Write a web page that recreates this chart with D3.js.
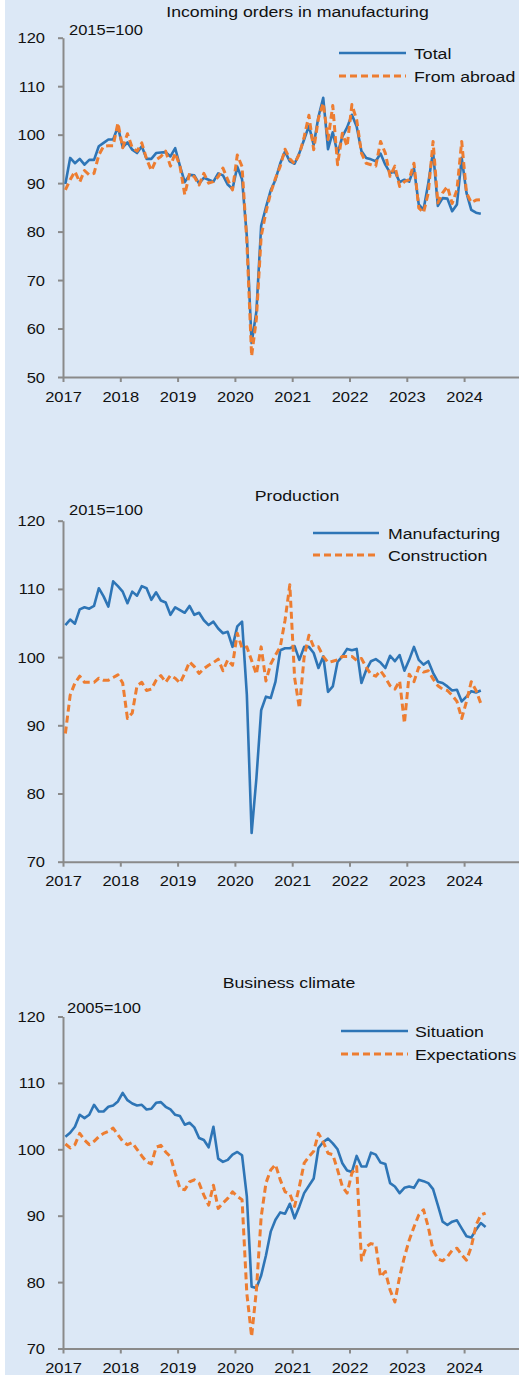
<!DOCTYPE html>
<html><head><meta charset="utf-8">
<script src="https://cdn.jsdelivr.net/npm/d3@7"></script>
<style>
body{margin:0;background:#fff}
svg{display:block}
text{font-family:"Liberation Sans",Arial,sans-serif;fill:#111}
</style>
</head><body>
<svg id="c" width="519" height="1378"></svg>
<script>
// ---------- data (monthly, starting Jan 2017) ----------
const startYear = 2017;
const yearTicks = [2017, 2018, 2019, 2020, 2021, 2022, 2023, 2024];

const ordersTotal = [
  89.8, 95.2, 94.1, 95.0, 93.8, 94.8, 94.8, 97.6, 98.3, 99.0, 99.0, 101.6,
  97.4, 98.4, 96.9, 96.2, 97.6, 95.0, 95.0, 96.2, 96.3, 96.4, 95.5, 97.2,
  93.5, 90.2, 91.7, 91.6, 89.9, 91.1, 90.7, 90.3, 92.0, 91.6, 89.7, 88.8,
  93.4, 90.8, 79.0, 57.0, 63.5, 81.2, 85.0, 88.5, 90.7, 94.1, 96.5, 94.5,
  94.0, 96.2, 99.0, 101.8, 97.9, 103.7, 107.6, 97.0, 100.5, 96.1, 99.6, 101.5,
  104.1, 101.7, 96.6, 95.2, 94.9, 94.5, 96.1, 93.8, 92.1, 92.4, 90.2, 90.7,
  90.3, 93.1, 85.6, 84.5, 90.0, 96.5, 85.3, 86.9, 86.8, 84.2, 85.6, 95.2,
  88.0, 84.5, 83.9, 83.7
];
const ordersAbroad = [
  88.6, 90.7, 92.4, 90.2, 92.6, 91.7, 92.0, 95.8, 97.6, 97.7, 97.7, 102.4,
  97.3, 100.2, 97.3, 96.6, 98.3, 95.0, 92.6, 94.8, 95.5, 96.6, 93.5, 96.2,
  93.5, 87.6, 92.0, 91.3, 89.6, 92.0, 90.0, 90.3, 91.3, 93.1, 90.7, 88.6,
  95.8, 93.4, 78.0, 54.3, 62.0, 79.0, 84.0, 88.0, 91.0, 93.5, 97.0, 95.0,
  94.0, 96.0, 99.5, 104.0, 96.9, 103.4, 106.5, 99.0, 106.0, 93.8, 100.3, 97.6,
  106.2, 103.1, 96.2, 94.1, 93.8, 93.5, 98.6, 96.2, 91.4, 93.5, 89.3, 90.3,
  90.7, 94.1, 84.9, 83.9, 88.0, 98.6, 85.9, 88.0, 89.3, 85.8, 88.6, 98.6,
  88.0, 86.0, 86.5, 86.6
];
const prodManufacturing = [
  104.7, 105.5, 104.9, 107.0, 107.3, 107.1, 107.5, 110.1, 108.9, 107.4, 111.1, 110.4,
  109.6, 107.9, 109.6, 109.0, 110.4, 110.1, 108.4, 109.5, 108.3, 108.0, 106.2, 107.3,
  106.9, 106.5, 107.5, 106.2, 106.5, 105.4, 104.7, 105.2, 104.2, 103.5, 103.7, 101.5,
  104.5, 105.2, 94.5, 74.2, 82.2, 92.2, 94.2, 94.0, 96.4, 101.0, 101.3, 101.3,
  101.6, 99.6, 101.5, 101.5, 100.6, 98.4, 100.1, 94.9, 95.7, 99.3, 100.1, 101.2,
  101.0, 101.2, 96.2, 98.1, 99.4, 99.7, 99.2, 98.4, 100.2, 99.4, 100.3, 98.0,
  99.6, 101.5, 99.6, 98.9, 99.4, 97.7, 96.4, 96.2, 95.7, 95.1, 95.2, 93.5,
  94.2, 95.0, 94.8, 95.1
];
const prodConstruction = [
  88.8, 94.4, 96.2, 97.2, 96.3, 96.3, 96.3, 96.9, 96.6, 96.6, 97.0, 97.4,
  96.2, 91.0, 91.8, 95.8, 96.3, 95.1, 95.3, 96.6, 97.3, 96.3, 97.3, 96.9,
  96.2, 97.6, 99.3, 98.6, 97.6, 98.3, 98.8, 99.2, 99.7, 98.0, 99.6, 98.8,
  103.5, 101.3, 101.5, 99.5, 97.5, 101.5, 96.5, 99.0, 100.3, 101.5, 105.4, 110.6,
  97.0, 92.5, 100.0, 103.2, 101.5, 101.5, 100.1, 99.2, 99.4, 99.6, 100.1, 100.1,
  100.1, 99.5, 99.8, 98.5, 97.5, 97.2, 98.0, 97.0, 95.8, 95.3, 96.5, 90.3,
  97.5, 96.4, 98.5, 97.8, 98.0, 96.8, 95.8, 95.3, 95.1, 94.4, 93.5, 91.0,
  93.5, 96.4, 95.1, 93.2
];
const climateSituation = [
  101.9, 102.5, 103.4, 105.2, 104.7, 105.2, 106.7, 105.7, 105.7, 106.4, 106.6, 107.2,
  108.5, 107.4, 106.9, 106.6, 106.7, 106.0, 106.1, 107.0, 107.1, 106.4, 106.0, 105.2,
  105.0, 103.7, 104.0, 103.3, 101.7, 101.4, 100.3, 103.4, 98.6, 98.1, 98.4, 99.2,
  99.6, 99.1, 92.9, 79.3, 79.1, 81.0, 84.0, 87.6, 89.4, 90.5, 90.3, 91.8,
  89.6, 91.4, 93.4, 94.5, 95.6, 100.2, 101.1, 101.6, 100.9, 100.0, 97.9, 96.8,
  96.6, 99.0, 97.4, 97.4, 99.5, 99.2, 98.0, 97.8, 94.9, 94.4, 93.4, 94.2,
  94.4, 94.2, 95.4, 95.2, 94.9, 94.0, 91.6, 89.1, 88.6, 89.1, 89.3, 88.1,
  86.9, 86.7, 87.9, 88.9, 88.3
];
const climateExpectations = [
  100.8, 100.2, 100.7, 102.4, 101.4, 100.7, 101.2, 101.9, 102.4, 102.7, 103.2, 102.2,
  101.2, 100.7, 101.0, 100.0, 99.0, 98.1, 97.8, 100.3, 100.6, 99.6, 98.9, 96.4,
  94.1, 93.9, 95.1, 95.4, 94.9, 93.1, 91.6, 94.6, 91.1, 91.9, 92.6, 93.6,
  92.9, 92.4, 78.3, 71.8, 78.8, 89.8, 94.9, 96.9, 97.7, 95.4, 93.6, 93.3,
  91.4, 94.4, 97.9, 98.9, 99.7, 102.4, 101.1, 99.4, 99.2, 96.9, 94.4, 93.4,
  96.4, 97.4, 83.3, 85.3, 85.8, 85.6, 80.8, 81.6, 78.8, 77.0, 80.8, 83.8,
  86.3, 88.3, 90.1, 90.9, 88.3, 84.8, 83.5, 83.2, 83.8, 84.8, 85.1, 84.1,
  83.3, 85.3, 88.6, 90.1, 90.4
];

const ticks1 = [50, 60, 70, 80, 90, 100, 110, 120];
const ticks23 = [70, 80, 90, 100, 110, 120];

// ---------- layout / style ----------
const SX = 1.18;              // horizontal text stretch of the original
const BLUE = "#2e75b6", ORANGE = "#ed7d31", AXIS = "#8a8a8a";
const xLeft = 63, xRight = 521.4;

const panels = [
  { title: "Incoming orders in manufacturing", titleX: 297.5, titleY: 17,
    unit: "2015=100", unitX: 69, unitY: 35,
    yTop: 37.7, yBot: 377, dom: [50, 120], ticks: ticks1,
    series: [ {name: "Total", data: ordersTotal, dash: false},
              {name: "From abroad", data: ordersAbroad, dash: true} ],
    legX1: 339, legX2: 406, legTX: 414, legY: [53, 76] },
  { title: "Production", titleX: 297, titleY: 501,
    unit: "2015=100", unitX: 69, unitY: 515,
    yTop: 520.7, yBot: 861.7, dom: [70, 120], ticks: ticks23,
    series: [ {name: "Manufacturing", data: prodManufacturing, dash: false},
              {name: "Construction", data: prodConstruction, dash: true} ],
    legX1: 313, legX2: 379, legTX: 388, legY: [533, 555] },
  { title: "Business climate", titleX: 289, titleY: 988,
    unit: "2005=100", unitX: 67, unitY: 1013,
    yTop: 1016.5, yBot: 1348.5, dom: [70, 120], ticks: ticks23,
    series: [ {name: "Situation", data: climateSituation, dash: false},
              {name: "Expectations", data: climateExpectations, dash: true} ],
    legX1: 341, legX2: 408, legTX: 415, legY: [1031, 1054] }
];

const svg = d3.select("#c");
svg.append("rect").attr("x", 5).attr("y", 0).attr("width", 514).attr("height", 1375)
   .attr("fill", "#dce8f6");

const x = d3.scaleLinear().domain([startYear, startYear + 8]).range([xLeft, xRight]);
const monthX = i => x(startYear + (i + 0.5) / 12);

function sText(g, px, py, str, size, anchor) {
  return g.append("text")
    .attr("transform", `translate(${px},${py}) scale(${SX},1)`)
    .attr("font-size", size).attr("text-anchor", anchor || "start").text(str);
}

panels.forEach(p => {
  const g = svg.append("g");
  const y = d3.scaleLinear().domain(p.dom).range([p.yBot, p.yTop]);

  // axes
  const yAx = g.append("g").attr("transform", `translate(${xLeft},0)`)
    .call(d3.axisLeft(y).tickValues(p.ticks).tickSize(5).tickSizeOuter(0));
  const xAx = g.append("g").attr("transform", `translate(0,${p.yBot})`)
    .call(d3.axisBottom(x).tickValues(yearTicks).tickFormat(d3.format("d")).tickSize(5).tickSizeOuter(0));
  [yAx, xAx].forEach(a => {
    a.select(".domain").attr("stroke", AXIS).attr("stroke-width", 2);
    a.selectAll(".tick line").attr("stroke", AXIS).attr("stroke-width", 2);
    a.selectAll(".tick text").attr("fill", "#111").attr("font-size", 14)
      .attr("font-family", '"Liberation Sans",Arial,sans-serif');
  });
  yAx.selectAll(".tick text").attr("x", null).attr("dy", "0.36em")
     .attr("transform", `translate(-18,0) scale(${SX},1)`);
  xAx.selectAll(".tick text").attr("y", null).attr("dy", null)
     .attr("transform", `translate(0,24.5) scale(${SX},1)`);

  // title and unit
  sText(g, p.titleX, p.titleY, p.title, 15, "middle");
  sText(g, p.unitX, p.unitY, p.unit, 14, "start");

  // lines
  p.series.forEach((s, k) => {
    const line = d3.line().x((d, i) => monthX(i)).y(d => y(d));
    g.append("path").datum(s.data).attr("d", line)
      .attr("fill", "none")
      .attr("stroke", s.dash ? ORANGE : BLUE)
      .attr("stroke-width", s.dash ? 3 : 2.6)
      .attr("stroke-linejoin", "round")
      .attr("stroke-dasharray", s.dash ? "7,4" : null);
  });

  // legend
  p.series.forEach((s, k) => {
    const ly = p.legY[k];
    g.append("line").attr("x1", p.legX1).attr("x2", p.legX2).attr("y1", ly).attr("y2", ly)
      .attr("stroke", s.dash ? ORANGE : BLUE)
      .attr("stroke-width", s.dash ? 3 : 2.6)
      .attr("stroke-dasharray", s.dash ? "7,4" : null);
    sText(g, p.legTX, ly + 5.5, s.name, 15, "start");
  });
});
</script>
</body></html>
